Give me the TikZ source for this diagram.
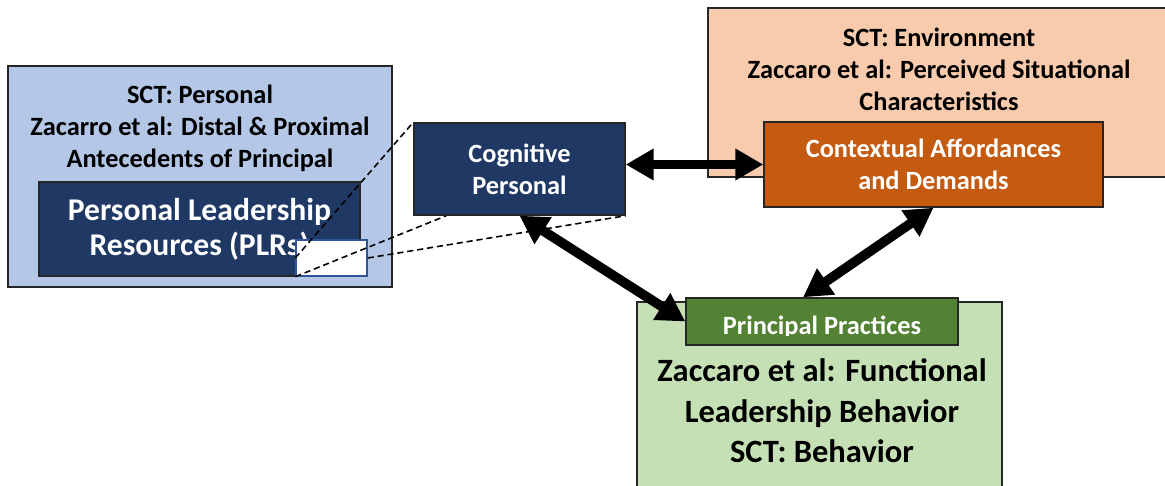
\documentclass[tikz,border=0pt]{standalone}
\usepackage{fontspec}
\setmainfont{Carlito}
\usetikzlibrary{arrows.meta,positioning,calc,backgrounds}

\definecolor{personalblue}{HTML}{B4C7E7}
\definecolor{navy}{HTML}{203864}
\definecolor{envpeach}{HTML}{F8CBAD}
\definecolor{ctxorange}{HTML}{C55A11}
\definecolor{behgreen}{HTML}{C5E0B4}
\definecolor{ppgreen}{HTML}{548235}
\definecolor{zoomblue}{HTML}{2F5597}

\begin{document}
\begin{tikzpicture}[
    font=\bfseries,
    % common styles
    outer/.style={draw=black!85, line width=0.8pt, rectangle, inner sep=0pt},
    inner/.style={draw=black!85, line width=0.8pt, rectangle, align=center, text=white, inner sep=0pt},
    title/.style={align=center, inner sep=0pt, font=\fontsize{15}{18.3}\selectfont\bfseries},
    small/.style={font=\fontsize{15}{18.3}\selectfont\bfseries},
    callout/.style={draw, line width=0.9pt, dash pattern=on 3.5pt off 2.2pt},
    twoway/.style={{Triangle[length=0.56cm,width=0.6cm]}-{Triangle[length=0.56cm,width=0.6cm]}, line width=5.5pt}
]
    \useasboundingbox (0,0) rectangle (23.3,-9.7);

    % --- 1. Personal side (kept behind the dashed callout) ---
    \begin{scope}[on background layer]
        \node[outer, fill=personalblue, minimum width=7.68cm, minimum height=4.42cm] (personal) at (4.0,-3.53) {};
        \node[title, below=0.38cm of personal.north] (personaltitle) {SCT: Personal\\Zacarro et al: Distal \& Proximal\\Antecedents of Principal};
        \node[inner, fill=navy, minimum width=6.42cm, minimum height=1.88cm, font=\fontsize{18}{22}\selectfont\bfseries] (plr) at (3.99,-4.58) {\raisebox{-2pt}{Personal Leadership}\\Resources (PLRs)};
        \node[draw=zoomblue, line width=0.8pt, fill=white, minimum width=1.42cm, minimum height=0.72cm, inner sep=0pt] (plrzoom) at (6.63,-5.16) {};
    \end{scope}

    % Cognitive box (zoomed view of the PLRs)
    \node[inner, fill=navy, small, minimum width=4.22cm, minimum height=1.84cm] (cog) at (10.39,-3.38) {Cognitive\\Personal};

    % dashed callout lines, under the cognitive box
    \begin{scope}[on background layer]
        \draw[callout] (plrzoom.west) -- (cog.north west);
        \draw[callout] (plrzoom.south west) -- ($(cog.south west)+(0.66,0)$);
        \draw[callout] (plrzoom.east) -- (cog.south east);
    \end{scope}

    % --- 2. Environment side ---
    \node[outer, fill=envpeach, minimum width=9.24cm, minimum height=3.38cm] (env) at (18.78,-1.85) {};
    \node[title, below=0.4cm of env.north] (envtitle) {SCT: Environment\\Zaccaro et al: Perceived Situational\\Characteristics};
    \node[inner, fill=ctxorange, small, minimum width=6.78cm, minimum height=1.70cm] (ctx) at (18.67,-3.29) {Contextual Affordances\\and Demands};

    % --- 3. Behavior side ---
    \node[outer, fill=behgreen, minimum width=7.30cm, minimum height=3.86cm] (beh) at (16.39,-7.97) {};
    \node[inner, fill=ppgreen, minimum width=5.44cm, minimum height=0.94cm] (pp) at (16.44,-6.43) {};
    \begin{scope}
        \clip (pp.north west) rectangle ($(pp.south east)+(0,0.2)$);
        \node[small, text=white, anchor=base, inner sep=0pt] (pptext) at ($(pp.south)+(0,0.22)$) {Principal Practices};
    \end{scope}
    \node[title, font=\fontsize{18.5}{23}\selectfont\bfseries, below=0.26cm of pp] (behtitle) {Zaccaro et al: Functional\\Leadership Behavior\\SCT: Behavior};

    % --- 4. Reciprocal arrows ---
    \draw[twoway] (cog.east |- ctx.west) -- (ctx.west);
    \draw[twoway] (cog.south) -- (pp.west);
    \draw[twoway] (ctx.south) -- ([xshift=-0.38cm]pp.north);

\end{tikzpicture}
\end{document}
